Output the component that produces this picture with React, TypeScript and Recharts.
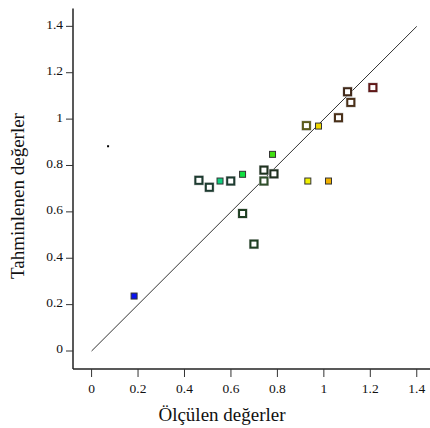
import React from 'react';
import {
  ScatterChart,
  Scatter,
  XAxis,
  YAxis,
  ReferenceLine,
} from 'recharts';

// measured (x) vs predicted (y)
const measured = [
  0.071, 0.183, 0.462, 0.507, 0.553, 0.599, 0.65, 0.65, 0.699, 0.742, 0.742,
  0.785, 0.779, 0.931, 1.02, 0.925, 0.977, 1.063, 1.102, 1.116, 1.211,
];
const predicted = [
  0.883, 0.237, 0.736, 0.706, 0.733, 0.733, 0.762, 0.593, 0.461, 0.78, 0.733,
  0.764, 0.848, 0.733, 0.733, 0.972, 0.97, 1.006, 1.118, 1.072, 1.136,
];

// marker look for each point (same order as above)
const markerKind = [
  'dot', 'filled', 'hollow', 'hollow', 'filled', 'hollow', 'filled', 'hollow',
  'hollow', 'hollow', 'hollow', 'hollow', 'filled', 'filled', 'filled', 'hollow',
  'filled', 'hollow', 'hollow', 'hollow', 'hollow',
];
const markerColor = [
  '#000000', '#0a14f0', '#1d3b30', '#1d3b30', '#10d080', '#1d3b30', '#10e040',
  '#1f3f22', '#1f3f22', '#1f3320', '#2f4f2a', '#1f2f1f', '#40e010', '#f0f000',
  '#f0b000', '#5a5a1c', '#f0d800', '#4a3018', '#402818', '#4a3018', '#601818',
];

const axisTicks = [0, 0.2, 0.4, 0.6, 0.8, 1, 1.2, 1.4];

const points = measured.map((x, i) => ({
  x,
  y: predicted[i],
  kind: markerKind[i],
  color: markerColor[i],
}));

const FONT = '"Liberation Serif", "Times New Roman", serif';

const Marker = (props: any) => {
  const { cx, cy, payload } = props;
  if (cx == null || cy == null) return null;
  if (payload.kind === 'dot') {
    return <rect x={cx - 1} y={cy - 1} width={2} height={2} fill={payload.color} />;
  }
  if (payload.kind === 'filled') {
    return (
      <rect x={cx - 3} y={cy - 3} width={6} height={6} fill={payload.color} stroke="#333" strokeWidth={1} />
    );
  }
  return (
    <g>
      <rect x={cx - 4.5} y={cy - 4.5} width={9} height={9} fill="none" stroke="#c4c4c4" strokeWidth={1} />
      <rect x={cx - 3.5} y={cy - 3.5} width={7} height={7} fill="#fff" stroke={payload.color} strokeWidth={2} />
    </g>
  );
};

const XTick = (props: any) => {
  const { x, y, payload } = props;
  return (
    <text x={x} y={y} dy={14} textAnchor="middle" fontFamily={FONT} style={{ fontFamily: FONT, fontSize: 13.5, fill: '#111' }}>
      {payload.value}
    </text>
  );
};

const YTick = (props: any) => {
  const { x, y, payload } = props;
  return (
    <text x={x} y={y} dy={2.4} textAnchor="end" fontFamily={FONT} style={{ fontFamily: FONT, fontSize: 13.5, fill: '#111' }}>
      {payload.value}
    </text>
  );
};

const XTitle = () => (
  <text x={222} y={421} textAnchor="middle" style={{ fontFamily: FONT, fontSize: 19, fill: '#111' }}>
    Ölçülen değerler
  </text>
);

const YTitle = () => (
  <text
    x={24}
    y={196}
    transform="rotate(-90 24 196)"
    textAnchor="middle"
    style={{ fontFamily: FONT, fontSize: 19, fill: '#111' }}
  >
    Tahminlenen değerler
  </text>
);

export default function App() {
  return (
    <div style={{ position: 'absolute', left: 0, top: 0, width: 430, height: 428, background: '#fff' }}>
      <ScatterChart width={430} height={428} margin={{ top: 8.5, right: 0, bottom: 0, left: 0 }}>
        <XAxis
          xAxisId="top"
          orientation="top"
          type="number"
          dataKey="x"
          domain={[-0.08, 1.457]}
          allowDataOverflow
          height={0}
          tick={false}
          tickLine={false}
          axisLine={{ stroke: '#222', strokeWidth: 1.5 }}
        />
        <XAxis
          type="number"
          dataKey="x"
          domain={[-0.08, 1.457]}
          allowDataOverflow
          ticks={axisTicks}
          interval={0}
          height={59}
          tickSize={8}
          tickMargin={2}
          tick={<XTick />}
          tickLine={{ stroke: '#333' }}
          axisLine={{ stroke: '#222', strokeWidth: 1.5 }}
          label={{ content: () => <XTitle /> }}
        />
        <YAxis
          type="number"
          dataKey="y"
          domain={[-0.0776, 1.477]}
          allowDataOverflow
          ticks={axisTicks}
          interval={0}
          width={73}
          tickSize={7}
          tickMargin={3}
          tick={<YTick />}
          tickLine={{ stroke: '#333' }}
          axisLine={{ stroke: '#222', strokeWidth: 1.5 }}
          label={{ content: () => <YTitle /> }}
        />
        <ReferenceLine
          segment={[
            { x: 0, y: 0 },
            { x: 1.4, y: 1.4 },
          ]}
          stroke="#333"
          strokeWidth={1}
          ifOverflow="visible"
        />
        <Scatter data={points} shape={<Marker />} isAnimationActive={false} />
      </ScatterChart>
    </div>
  );
}
